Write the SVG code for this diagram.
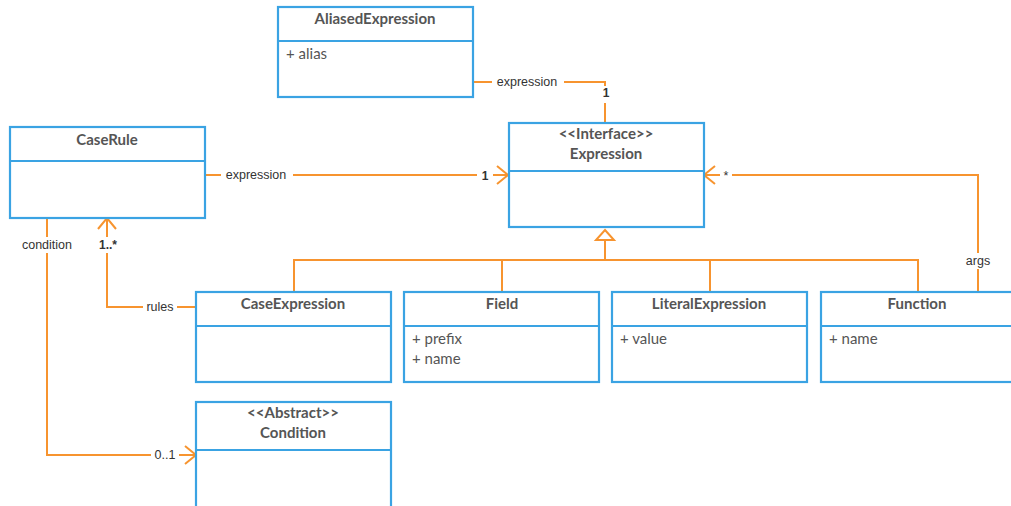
<svg xmlns="http://www.w3.org/2000/svg" width="1011" height="506" viewBox="0 0 1011 506">
  <style>
    .box { fill: #ffffff; stroke: #3aa3e3; stroke-width: 2.2; }
    .div { stroke: #3aa3e3; stroke-width: 2.2; }
    .title { font-family: Lato, "Liberation Sans", sans-serif; font-weight: bold; font-size: 15px; fill: #555555; text-anchor: middle; }
    .attr { font-family: Lato, "Liberation Sans", sans-serif; font-size: 15px; fill: #555555; }
    .link { fill: none; stroke: #f7942f; stroke-width: 2; }
    .lbl { font-family: "Liberation Sans", Arial, sans-serif; font-size: 12.5px; fill: #333333; text-anchor: middle; }
    .mult { font-family: "Liberation Sans", Arial, sans-serif; font-size: 12px; font-weight: bold; fill: #333333; text-anchor: middle; }
    .bg { fill: #ffffff; }
  </style>
  <defs>
    <marker id="open" markerUnits="userSpaceOnUse" markerWidth="24" markerHeight="24" refX="12" refY="12" orient="auto" overflow="visible">
      <path d="M1,3 L12,12 L1,21" fill="none" stroke="#f7942f" stroke-width="2"/>
    </marker>
  </defs>

  <!-- connectors -->
  <g id="connectors">
    <!-- AliasedExpression -> Expression -->
    <path class="link" d="M473,82 H605 V122"/>
    <rect class="bg" x="492" y="74" width="72" height="16"/>
    <text class="lbl" x="527" y="86">expression</text>
    <rect class="bg" x="598" y="86" width="16" height="17"/>
    <text class="mult" x="606" y="97">1</text>

    <!-- CaseRule -> Expression -->
    <path class="link" d="M205,175 H508" marker-end="url(#open)"/>
    <rect class="bg" x="221" y="167" width="72" height="16"/>
    <text class="lbl" x="256" y="179">expression</text>
    <rect class="bg" x="477" y="167" width="16" height="16"/>
    <text class="mult" x="485" y="180">1</text>

    <!-- Function args -> Expression -->
    <path class="link" d="M978,292 V175 H704" marker-end="url(#open)"/>
    <rect class="bg" x="720" y="167" width="12" height="16"/>
    <text class="lbl" x="726" y="180">*</text>
    <rect class="bg" x="962" y="253" width="32" height="16"/>
    <text class="lbl" x="978" y="265">args</text>

    <!-- generalization to Expression -->
    <path class="link" d="M605,240 V260 M294,292 V260 H918 V292 M502,260 V292 M710,260 V292"/>
    <path d="M605,230 L614,240 L596,240 Z" fill="#ffffff" stroke="#f7942f" stroke-width="2" stroke-linejoin="miter"/>

    <!-- CaseExpression rules -> CaseRule -->
    <path class="link" d="M196,307 H107 V218" marker-end="url(#open)"/>
    <rect class="bg" x="143" y="299" width="34" height="16"/>
    <text class="lbl" x="160" y="311">rules</text>
    <rect class="bg" x="96" y="237" width="26" height="16"/>
    <text class="mult" x="108" y="249">1..*</text>

    <!-- CaseRule condition -> Condition -->
    <path class="link" d="M47,218 V455 H196" marker-end="url(#open)"/>
    <rect class="bg" x="17" y="237" width="60" height="16"/>
    <text class="lbl" x="47" y="249">condition</text>
    <rect class="bg" x="151" y="447" width="28" height="16"/>
    <text class="lbl" x="165" y="459">0..1</text>
  </g>

  <!-- AliasedExpression -->
  <g id="aliased-expression">
    <rect class="box" x="278" y="7" width="195" height="90"/>
    <line class="div" x1="278" y1="41" x2="473" y2="41"/>
    <text class="title" x="375" y="24">AliasedExpression</text>
    <text class="attr" x="286" y="59">+ alias</text>
  </g>

  <!-- Expression -->
  <g id="expression">
    <rect class="box" x="509" y="123" width="195" height="104"/>
    <line class="div" x1="509" y1="171" x2="704" y2="171"/>
    <text class="title" x="606" y="139">&lt;&lt;Interface&gt;&gt;</text>
    <text class="title" x="606" y="159">Expression</text>
  </g>

  <!-- CaseRule -->
  <g id="case-rule">
    <rect class="box" x="10" y="127" width="195" height="91"/>
    <line class="div" x1="10" y1="161" x2="205" y2="161"/>
    <text class="title" x="107" y="145">CaseRule</text>
  </g>

  <!-- CaseExpression -->
  <g id="case-expression">
    <rect class="box" x="196" y="292" width="195" height="90"/>
    <line class="div" x1="196" y1="326" x2="391" y2="326"/>
    <text class="title" x="293" y="309">CaseExpression</text>
  </g>

  <!-- Field -->
  <g id="field">
    <rect class="box" x="404" y="292" width="195" height="90"/>
    <line class="div" x1="404" y1="326" x2="599" y2="326"/>
    <text class="title" x="502" y="309">Field</text>
    <text class="attr" x="412" y="344">+ prefix</text>
    <text class="attr" x="412" y="364">+ name</text>
  </g>

  <!-- LiteralExpression -->
  <g id="literal-expression">
    <rect class="box" x="612" y="292" width="195" height="90"/>
    <line class="div" x1="612" y1="326" x2="807" y2="326"/>
    <text class="title" x="709" y="309">LiteralExpression</text>
    <text class="attr" x="620" y="344">+ value</text>
  </g>

  <!-- Function -->
  <g id="function">
    <rect class="box" x="821" y="292" width="195" height="90"/>
    <line class="div" x1="821" y1="326" x2="1016" y2="326"/>
    <text class="title" x="917" y="309">Function</text>
    <text class="attr" x="829" y="344">+ name</text>
  </g>

  <!-- Condition -->
  <g id="condition">
    <rect class="box" x="196" y="402" width="195" height="110"/>
    <line class="div" x1="196" y1="450" x2="391" y2="450"/>
    <text class="title" x="293" y="418">&lt;&lt;Abstract&gt;&gt;</text>
    <text class="title" x="293" y="438">Condition</text>
  </g>
</svg>
